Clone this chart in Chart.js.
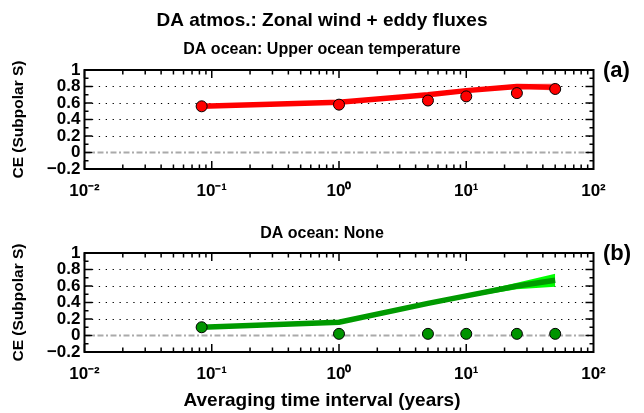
<!DOCTYPE html>
<html>
<head>
<meta charset="utf-8">
<script src="https://cdn.jsdelivr.net/npm/chart.js@4/dist/chart.umd.min.js"></script>
<style>
  body { margin: 0; background: #fff; }
  #wrap { position: relative; width: 644px; height: 413px; }
  canvas { position: absolute; left: 0; }
</style>
</head>
<body>
<div id="wrap">
  <canvas id="chartA" width="644" height="205" style="top:0"></canvas>
  <canvas id="chartB" width="644" height="208" style="top:205px"></canvas>
</div>
<script>
// averaging intervals (years): 1 month, 1, 5, 10, 25, 50
const intervals = [0.0833, 1, 5, 10, 25, 50];

// panel (a): DA ocean = upper ocean temperature
const upperPts  = [0.56, 0.58, 0.63, 0.68, 0.72, 0.77];
const upperLine = [0.56, 0.61, 0.70, 0.75, 0.80, 0.79];
const upperHi   = [0.57, 0.62, 0.71, 0.77, 0.83, 0.84];
const upperLo   = [0.55, 0.60, 0.69, 0.74, 0.78, 0.75];

// panel (b): DA ocean = none
const nonePts  = [0.10, 0.02, 0.02, 0.02, 0.02, 0.02];
const noneLine = [0.10, 0.16, 0.39, 0.48, 0.60, 0.67];
const noneHi   = [0.11, 0.17, 0.40, 0.50, 0.64, 0.75];
const noneLo   = [0.09, 0.15, 0.38, 0.46, 0.56, 0.59];

const zeroX = [0.01, 100];
const xTickValues = [0.01, 0.1, 1, 10, 100];
const xTickLabels = ['10⁻²', '10⁻¹', '10⁰', '10¹', '10²'];
const yTickLabels = ['−0.2', '0', '0.2', '0.4', '0.6', '0.8', '1'];

const FONT = "'Liberation Sans', Arial, Helvetica, sans-serif";
Chart.defaults.font.family = FONT;
Chart.defaults.color = '#000';

function xy(vals) {
  return intervals.map((x, i) => ({x: x, y: vals[i]}));
}

// box around the axes + matlab style inner ticks + panel letter
const framePlugin = {
  id: 'frame',
  afterDatasetsDraw(chart) {
    const ctx = chart.ctx;
    const {left, right, top, bottom} = chart.chartArea;
    const xs = chart.scales.x, ys = chart.scales.y;
    ctx.save();
    ctx.strokeStyle = '#000';
    ctx.lineWidth = 1.5;
    ctx.beginPath();
    for (let i = 0; i <= 12; i++) {
      const py = ys.getPixelForValue(-0.2 + 0.1 * i);
      const len = i % 2 === 0 ? 8 : 4;
      ctx.moveTo(left, py); ctx.lineTo(left + len, py);
      ctx.moveTo(right, py); ctx.lineTo(right - len, py);
    }
    for (let e = -2; e <= 1; e++) {
      for (let m = 1; m <= 9; m++) {
        const px = xs.getPixelForValue(m * Math.pow(10, e));
        const len = m === 1 ? 8 : 4.5;
        ctx.moveTo(px, bottom); ctx.lineTo(px, bottom - len);
        ctx.moveTo(px, top); ctx.lineTo(px, top + len);
      }
    }
    ctx.stroke();
    ctx.lineWidth = 2;
    ctx.strokeRect(left, top, right - left, bottom - top);
    ctx.restore();
  },
  afterDraw(chart, args, opts) {
    const ctx = chart.ctx;
    ctx.save();
    ctx.font = 'bold 22px ' + FONT;
    ctx.fillStyle = '#000';
    ctx.textBaseline = 'middle';
    ctx.fillText(opts.tag, chart.chartArea.right + 9.5, chart.chartArea.top + 1);
    ctx.restore();
  }
};

function makePanel(id, p) {
  return new Chart(document.getElementById(id), {
    type: 'line',
    data: {
      datasets: [{
        label: 'CE',
        data: xy(p.pts),
        showLine: false,
        pointRadius: 5.5,
        pointBackgroundColor: p.ptColor,
        pointBorderColor: '#000',
        pointBorderWidth: 1,
        order: 0
      }, {
        label: 'mean',
        data: xy(p.line),
        borderColor: p.lineColor,
        borderWidth: 5.5,
        pointRadius: 0,
        tension: 0,
        order: 1
      }, {
        label: 'upper',
        data: xy(p.hi),
        borderColor: 'transparent',
        borderWidth: 0,
        pointRadius: 0,
        fill: '+1',
        backgroundColor: p.bandColor,
        order: 2
      }, {
        label: 'lower',
        data: xy(p.lo),
        borderColor: 'transparent',
        borderWidth: 0,
        pointRadius: 0,
        order: 3
      }, {
        label: 'zero',
        data: zeroX.map(x => ({x: x, y: 0})),
        borderColor: '#aaaaaa',
        borderWidth: 2,
        borderDash: [6, 2.5, 2, 2.5],
        pointRadius: 0,
        order: 4
      }]
    },
    options: {
      responsive: false,
      animation: false,
      layout: { padding: 0 },
      scales: {
        x: {
          type: 'logarithmic',
          min: 0.01, max: 100,
          grid: { display: false },
          border: { display: false },
          ticks: {
            font: { size: 17, weight: 'bold' },
            color: '#000',
            padding: 4,
            maxRotation: 0,
            autoSkip: false,
            callback: (v, i) => xTickLabels[i]
          },
          afterBuildTicks: s => { s.ticks = xTickValues.map(v => ({value: v})); },
          afterFit: s => { s.height = p.xAxisH; }
        },
        y: {
          min: -0.2, max: 1,
          ticks: {
            stepSize: 0.2,
            autoSkip: false,
            font: { size: 17, weight: 'bold' },
            color: '#000',
            padding: 4,
            callback: (v, i) => yTickLabels[i]
          },
          grid: {
            drawTicks: false,
            lineWidth: 1,
            color: c => (c.tick && c.tick.value > 0.1 && c.tick.value < 0.9) ? '#000' : 'transparent'
          },
          border: { display: false, dash: [1.3, 5.6] },
          title: {
            display: true,
            text: 'CE (Subpolar S)',
            font: { size: 15.5, weight: 'bold' },
            color: '#000',
            padding: { top: 9.5, bottom: 0 }
          },
          afterFit: s => { s.width = 84.5; }
        },
        yR: {
          position: 'right',
          min: -0.2, max: 1,
          grid: { display: false },
          border: { display: false },
          ticks: { display: false },
          afterFit: s => { s.width = 50.5; }
        }
      },
      plugins: {
        legend: { display: false },
        tooltip: { enabled: false },
        title: p.title,
        subtitle: p.subtitle,
        frame: { tag: p.tag }
      }
    },
    plugins: [framePlugin]
  });
}

makePanel('chartA', {
  pts: upperPts, line: upperLine, hi: upperHi, lo: upperLo,
  ptColor: '#ff0000', lineColor: '#ff0000', bandColor: 'rgba(255,120,120,0.5)',
  xAxisH: 36, tag: '(a)',
  title: {
    display: true, text: 'DA atmos.: Zonal wind + eddy fluxes', color: '#000',
    font: { size: 19, weight: 'bold' }, padding: { top: 9.6, bottom: 0 }
  },
  subtitle: {
    display: true, text: 'DA ocean: Upper ocean temperature', color: '#000',
    font: { size: 16, weight: 'bold' }, padding: { top: 8, bottom: 10.4 }
  }
});

makePanel('chartB', {
  pts: nonePts, line: noneLine, hi: noneHi, lo: noneLo,
  ptColor: '#009400', lineColor: '#009a00', bandColor: '#00ff00',
  xAxisH: 37.6, tag: '(b)',
  title: {
    display: true, text: 'DA ocean: None', color: '#000',
    font: { size: 16, weight: 'bold' }, padding: { top: 19, bottom: 9.8 }
  },
  subtitle: {
    display: true, position: 'bottom', text: 'Averaging time interval (years)', color: '#000',
    font: { size: 19, weight: 'bold' }, padding: { top: 0, bottom: 0.6 }
  }
});
</script>
</body>
</html>
